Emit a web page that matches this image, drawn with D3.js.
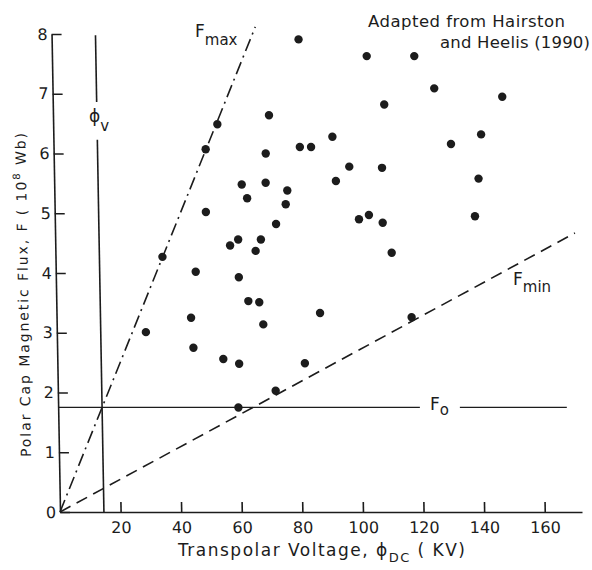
<!DOCTYPE html>
<html>
<head>
<meta charset="utf-8">
<script src="https://cdn.jsdelivr.net/npm/d3@7"></script>
<style>
  body { margin: 0; background: #fff; }
  svg text { font-family: "DejaVu Sans", sans-serif; fill: #1c1c1c; }
</style>
</head>
<body>
<svg id="chart" width="592" height="570"></svg>
<script>
// values (Hairston & Heelis 1990)
const voltage = [81.5, 103.9, 119.6, 126.0, 148.4, 109.4, 71.3, 54.2, 92.1, 141.2,
                 131.2, 81.3, 85.0, 50.2, 70.0, 97.5, 108.3, 93.0, 140.1, 61.9,
                 69.8, 76.9, 63.6, 76.3, 49.9, 100.4, 103.7, 108.2, 138.7, 73.0,
                 57.7, 60.4, 67.9, 66.1, 111.0, 35.3, 46.2, 60.4, 63.4, 67.0,
                 68.2, 44.4, 29.4, 87.0, 117.2, 45.0, 54.8, 60.0, 81.7, 71.9, 59.5];
const flux = [7.91, 7.63, 7.63, 7.09, 6.95, 6.82, 6.64, 6.49, 6.28, 6.32,
              6.16, 6.11, 6.11, 6.07, 6.00, 5.78, 5.76, 5.54, 5.58, 5.48,
              5.51, 5.38, 5.25, 5.15, 5.02, 4.90, 4.97, 4.84, 4.95, 4.82,
              4.46, 4.56, 4.56, 4.37, 4.34, 4.27, 4.02, 3.93, 3.53, 3.51,
              3.14, 3.25, 3.01, 3.33, 3.26, 2.75, 2.56, 2.48, 2.49, 2.03, 1.75];

const xTicks = [20, 40, 60, 80, 100, 120, 140, 160];
const yTicks = [0, 1, 2, 3, 4, 5, 6, 7, 8];

const phiV = 14.5;          // kV
const fluxF0 = 1.75;        // 10^8 Wb
const fmaxEnd = [67.3, 8.12];
const fminEnd = [171.6, 4.67];
const phiVGap = [6.23, 6.86];
const f0Gap = [119.4, 132.6];
const f0End = 167.9;

const ink = '#1c1c1c';
const svg = d3.select('#chart');

const x = d3.scaleLinear().domain([0, 172.3]).range([60, 582]);
const y = d3.scaleLinear().domain([0, 8]).range([512, 34]);

// the scanned figure leans a little; reproduce it with a skew about the x axis
const lean = Math.atan(0.0177) * 180 / Math.PI;
const g = svg.append('g')
    .attr('transform', `translate(0,512) skewX(${lean}) translate(0,-512)`);

// axes
const xAxis = d3.axisBottom(x).tickValues(xTicks)
    .tickSizeInner(-10).tickSizeOuter(0).tickPadding(10);
const yAxis = d3.axisLeft(y).tickValues(yTicks)
    .tickSizeInner(-10).tickSizeOuter(0).tickPadding(4);

const gx = g.append('g').attr('transform', `translate(0,${y(0)})`).call(xAxis);
const gy = g.append('g').attr('transform', `translate(${x(0)},0)`).call(yAxis);

[gx, gy].forEach(a => {
    a.selectAll('path, line').attr('stroke', ink).attr('stroke-width', 1.6);
    a.selectAll('text').style('font-size', '16px').attr('fill', ink);
    a.attr('font-family', null);
});

// reference lines
const line = d3.line().x(d => x(d[0])).y(d => y(d[1]));
const refs = g.append('g').attr('fill', 'none').attr('stroke', ink);

refs.append('path')
    .attr('d', line([[0, 0], fmaxEnd]))
    .attr('stroke-width', 1.6)
    .attr('stroke-dasharray', '13 5 2 5');

refs.append('path')
    .attr('d', line([[0, 0], fminEnd]))
    .attr('stroke-width', 1.6)
    .attr('stroke-dasharray', '12 7');

refs.append('path')
    .attr('d', line([[phiV, 0], [phiV, phiVGap[0]]]))
    .attr('stroke-width', 1.6);
refs.append('path')
    .attr('d', line([[phiV, phiVGap[1]], [phiV, 7.98]]))
    .attr('stroke-width', 1.6);

refs.append('path')
    .attr('d', line([[0, fluxF0], [f0Gap[0], fluxF0]]))
    .attr('stroke-width', 1.3);
refs.append('path')
    .attr('d', line([[f0Gap[1], fluxF0], [f0End, fluxF0]]))
    .attr('stroke-width', 1.3);

// data points
g.append('g').selectAll('circle')
    .data(voltage.map((v, i) => [v, flux[i]]))
    .join('circle')
    .attr('cx', d => x(d[0]))
    .attr('cy', d => y(d[1]))
    .attr('r', 4.2)
    .attr('fill', ink);

// y axis title
const yt = g.append('text')
    .attr('transform', 'translate(32,295) rotate(-90)')
    .attr('text-anchor', 'middle')
    .attr('textLength', 324)
    .attr('lengthAdjust', 'spacing')
    .style('font-size', '14px');
yt.append('tspan').text('Polar Cap Magnetic Flux, F ( 10');
yt.append('tspan').attr('dy', -6).style('font-size', '10px').text('8');
yt.append('tspan').attr('dy', 6).text(' Wb)');

// x axis title
const xt = svg.append('text')
    .attr('x', 178).attr('y', 556)
    .attr('textLength', 287)
    .attr('lengthAdjust', 'spacing')
    .style('font-size', '17px');
xt.append('tspan').text('Transpolar Voltage, \u03D5');
xt.append('tspan').attr('dy', 6).style('font-size', '13px').text('DC');
xt.append('tspan').attr('dy', -6).text('  ( KV)');

// labels on the reference lines
function subLabel(px, py, main, sub, drop) {
    const t = svg.append('text').attr('x', px).attr('y', py).style('font-size', '17px');
    t.append('tspan').text(main);
    t.append('tspan').attr('dy', drop).style('font-size', '15px').text(sub);
    return t;
}
subLabel(195, 37, 'F', 'max', 8);
subLabel(513, 285, 'F', 'min', 7);
subLabel(430, 410, 'F', 'o', 5);
subLabel(89, 122, '\u03D5', 'v', 9);

// source note
svg.append('text').attr('x', 368).attr('y', 27)
    .attr('textLength', 197).attr('lengthAdjust', 'spacing')
    .style('font-size', '16.5px').text('Adapted from Hairston');
svg.append('text').attr('x', 440).attr('y', 48)
    .attr('textLength', 150).attr('lengthAdjust', 'spacing')
    .style('font-size', '16.5px').text('and Heelis (1990)');
</script>
</body>
</html>
